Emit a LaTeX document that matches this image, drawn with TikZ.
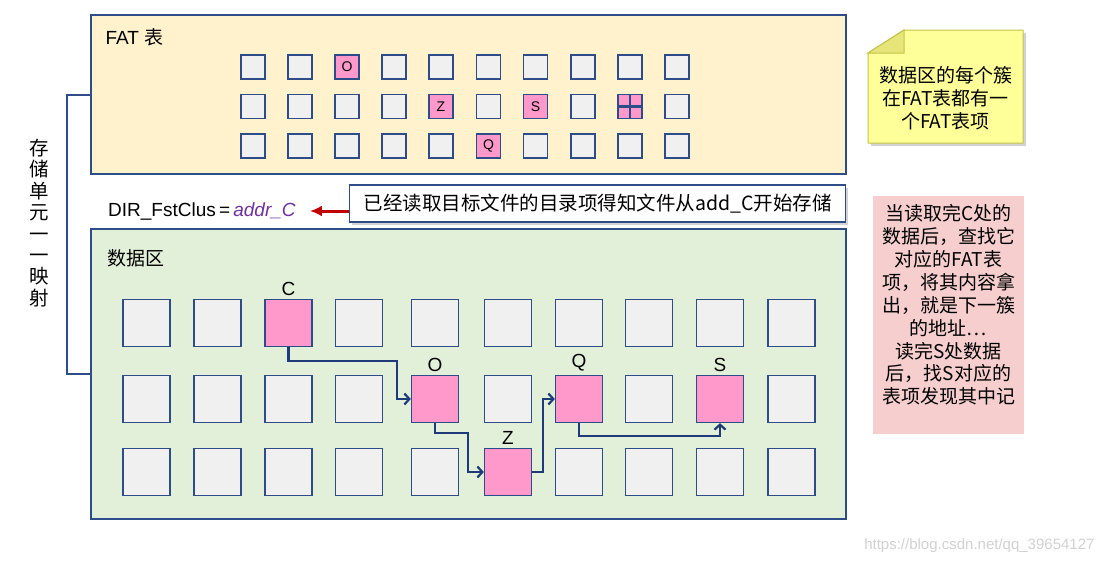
\documentclass[tikz,border=0pt]{standalone}
\usepackage{fontspec}
\setmainfont{Liberation Sans}
\newfontfamily\cjk{Noto Sans CJK SC}
\usetikzlibrary{arrows.meta, shadows}

\definecolor{frame}{HTML}{2E4C88}
\definecolor{fatbg}{HTML}{FFF2CC}
\definecolor{databg}{HTML}{E2F0D9}
\definecolor{cellgray}{HTML}{F0F0F0}
\definecolor{cellpink}{HTML}{FF99CC}
\definecolor{flowblue}{HTML}{1F3A78}
\definecolor{ptrred}{HTML}{C00000}
\definecolor{addrpurple}{HTML}{7030A0}
\definecolor{noteyellow}{HTML}{FFFF99}
\definecolor{noteedge}{HTML}{C4C44A}
\definecolor{notepink}{HTML}{F6CECE}

\begin{document}
\begin{tikzpicture}[x=1pt, y=-1pt, >={Straight Barb[length=5pt,width=11pt]}]
  \tikzstyle{area} = [draw=frame, line width=1.3pt, inner sep=0pt]
  \tikzstyle{fatcell} = [draw=frame, fill=cellgray, line width=1.3pt, minimum size=24pt, inner sep=0pt, font=\fontsize{14}{16}\selectfont]
  \tikzstyle{fatpink} = [fatcell, fill=cellpink]
  \tikzstyle{datacell} = [draw=frame, fill=cellgray, line width=1.3pt, minimum size=47pt, inner sep=0pt]
  \tikzstyle{datapink} = [datacell, fill=cellpink, label distance=1pt]
  \tikzstyle{flow} = [->, draw=flowblue, line width=2.2pt]
  \tikzstyle{ptr} = [-{Latex[length=12pt,width=11pt]}, draw=ptrred, line width=3pt]
  \tikzstyle{txt} = [font=\fontsize{19}{23}\selectfont]
  \tikzstyle{cjktxt} = [font=\cjk\fontsize{19}{23}\selectfont, align=center, inner sep=0pt]
  \useasboundingbox (0,0) rectangle (1105,565);

  % the two storage areas
  \node [area, fill=fatbg, minimum width=755pt, minimum height=159pt] (fat) at (468.5,94.5) {};
  \node [area, fill=databg, minimum width=755pt, minimum height=290pt] (data) at (468.5,374) {};
  \node [txt, anchor=west] (fatname) at (102,37) {FAT {\cjk 表}};
  \node [cjktxt, anchor=west] (dataname) at (107,258) {数据区};

  % FAT entries
  \foreach \r/\y in {1/67,2/106.5,3/146}
    \foreach \c/\x in {1/253,2/300,3/347,4/394,5/441,6/488.5,7/535.5,8/583,9/630,10/677}
      \node [fatcell] (f\r-\c) at (\x,\y) {};
  \node [fatpink] (fO) at (f1-3) {O};
  \node [fatpink] (fZ) at (f2-5) {Z};
  \node [fatpink] (fS) at (f2-7) {S};
  \node [fatpink] (fQ) at (f3-6) {Q};
  \node [fatpink, path picture={
      \draw [frame, line width=2.2pt] (path picture bounding box.north) -- (path picture bounding box.south)
            (path picture bounding box.west) -- (path picture bounding box.east);}] (fEnd) at (f2-9) {};

  % data clusters
  \foreach \r/\y in {1/323,2/399,3/472}
    \foreach \c/\x in {1/146.5,2/217.5,3/288.5,4/359,5/435,6/508,7/579,8/649,9/720,10/791.5}
      \node [datacell] (d\r-\c) at (\x,\y) {};
  \node [datapink, label={[txt]above:C}] (C) at (d1-3) {};
  \node [datapink, label={[txt]above:O}] (O) at (d2-5) {};
  \node [datapink, label={[txt]above:Z}] (Z) at (d3-6) {};
  \node [datapink, label={[txt]above:Q}] (Q) at (d2-7) {};
  \node [datapink, label={[txt]above:S}] (S) at (d2-9) {};

  \draw [flow] (C.south) -- ++(0,14) -| ([xshift=-14pt]O.west) -- (O.west);
  \draw [flow] (O.south) -- ++(0,10) -| ([xshift=-16pt]Z.west) -- (Z.west);
  \draw [flow] (Z.east) -- ++(11,0) |- (Q.west);
  \draw [flow] (Q.south) -- ++(0,13) -| (S.south);

  % one to one mapping
  \draw [draw=frame, line width=2pt] (fat.west) -- ++(-23,0) |- (data.west);
  \node [cjktxt, font=\cjk\fontsize{19.5}{21.4}\selectfont] (map) at (39,223) {存\\储\\单\\元\\一\\一\\映\\射};

  % directory entry
  \node [txt, anchor=west, inner sep=0pt] (dir) at (108,211) {DIR\_FstClus\,=\,\textcolor{addrpurple}{\textit{addr\_C}}};
  \node [draw=frame, fill=white, line width=1.3pt, minimum width=496pt, minimum height=37pt, anchor=west,
         drop shadow={shadow xshift=2.5pt, shadow yshift=-2.5pt, opacity=0.35},
         font=\cjk\fontsize{19.5}{23}\selectfont] (tip) at (349,203.5) {已经读取目标文件的目录项得知文件从add\_C开始存储};
  \draw [ptr] (tip.west |- dir.east) -- ([xshift=14pt]dir.east);

  % notes
  \draw [fill=noteyellow, draw=noteedge, line width=1pt,
         drop shadow={shadow xshift=3pt, shadow yshift=-3pt, opacity=0.35}]
        (868,53) -- (904,30) -- (1023,30) -- (1023,143) -- (868,143) -- cycle;
  \draw [fill=noteyellow!80!olive, draw=noteedge, line width=1pt] (868,53) -- (904,30) -- (904,53) -- cycle;
  \node [cjktxt] (fatnote) at (945.5,98) {数据区的每个簇\\在FAT表都有一\\个FAT表项};
  \node [fill=notepink, minimum width=151pt, minimum height=238pt] (hint) at (948.5,315) {};
  \node [cjktxt, font=\cjk\fontsize{19}{22.9}\selectfont] (hinttext) at (948.5,305) {当读取完C处的\\数据后，查找它\\对应的FAT表\\项，将其内容拿\\出，就是下一簇\\的地址…\\读完S处数据\\后，找S对应的\\表项发现其中记};

  \node [anchor=east, text=black!18, font=\fontsize{15}{18}\selectfont] (mark) at (1098,546) {https://blog.csdn.net/qq\_39654127};
\end{tikzpicture}
\end{document}
